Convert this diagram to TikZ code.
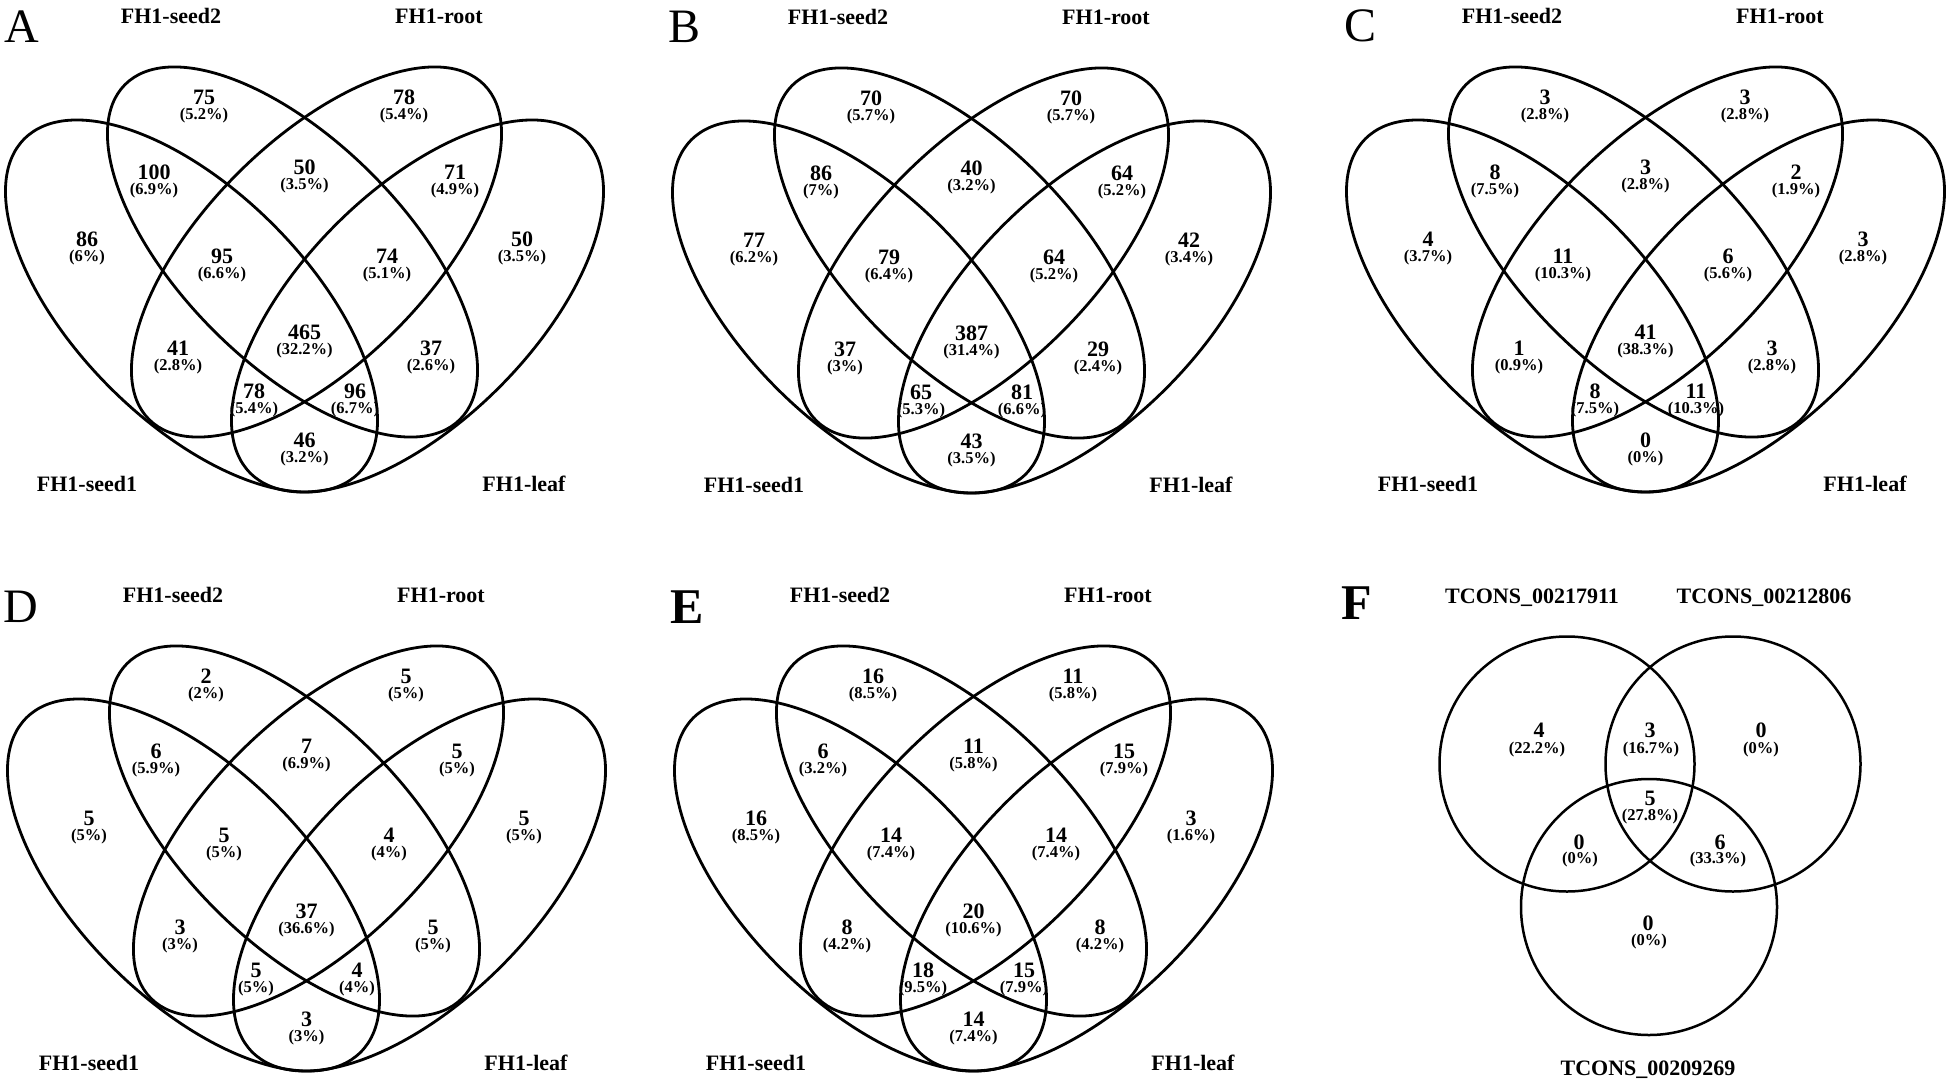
\documentclass[tikz,border=0pt]{standalone}
\usepackage{fontspec}
\setmainfont{Liberation Serif}
\def\RX{{204,404,154,304.5,455,87,522,222,387,178,304.5,431,254,355,304.5}}
\def\RY{{97,97,172,167,172,239,239,256,256,348,332,348,391,391,440}}
\newcommand\quadvenn[4]{%
 \begin{scope}[shift={(#2,#3)}]
  \draw[ell, rotate around={-45:(191.5,306)}] (191.5,306) ellipse [x radius=236.4pt, y radius=115.3pt];
  \draw[ell, rotate around={45:(417.5,306)}] (417.5,306) ellipse [x radius=236.4pt, y radius=115.3pt];
  \draw[ell, rotate around={-45:(292.5,252)}] (292.5,252) ellipse [x radius=236.8pt, y radius=111.3pt];
  \draw[ell, rotate around={45:(316.5,252)}] (316.5,252) ellipse [x radius=236.8pt, y radius=111.3pt];
  \foreach \n/\p [count=\i from 0] in {#4} {
    \pgfmathsetmacro\xx{\RX[\i]}
    \pgfmathsetmacro\yy{\RY[\i]}
    \node[num] (#1n\i) at (\xx,\yy) {\n};
    \node[pct] (#1p\i) at (\xx,\yy+18.7) {(\p\%)};
  }
  \node[lab] (#1seedtwo) at (171,16) {FH1-seed2};
  \node[lab] (#1root) at (439,16) {FH1-root};
  \node[lab] (#1seedone) at (87,484) {FH1-seed1};
  \node[lab] (#1leaf) at (524,484) {FH1-leaf};
 \end{scope}}
\begin{document}
\begin{tikzpicture}[x=1pt,y=-1pt,
  ell/.style={line width=2.8pt},
  circ/.style={line width=2.5pt},
  lab/.style={inner sep=0pt,font=\fontsize{22}{24}\selectfont\bfseries},
  num/.style={inner sep=0pt,font=\fontsize{22}{24}\selectfont\bfseries},
  pct/.style={inner sep=0pt,font=\fontsize{16.5}{18}\selectfont\bfseries},
  letter/.style={inner sep=0pt,font=\fontsize{48}{50}\selectfont},
  bletter/.style={inner sep=0pt,font=\fontsize{50}{52}\selectfont\bfseries}]
\fill[white] (0,0) rectangle (1946,1084);
\useasboundingbox (0,0) rectangle (1946,1084);
% panel letters
\node[letter] (LA) at (22,27) {A};
\node[letter] (LB) at (684,27) {B};
\node[letter] (LC) at (1360,26) {C};
\node[letter] (LD) at (21,607) {D};
\node[bletter] (LE) at (687,607) {E};
\node[bletter] (LF) at (1357,603) {F};
% panels A-E
\quadvenn{A}{0}{0}{75/5.2,78/5.4,100/6.9,50/3.5,71/4.9,86/6,50/3.5,95/6.6,74/5.1,41/2.8,465/32.2,37/2.6,78/5.4,96/6.7,46/3.2}
\quadvenn{B}{667}{1}{70/5.7,70/5.7,86/7,40/3.2,64/5.2,77/6.2,42/3.4,79/6.4,64/5.2,37/3,387/31.4,29/2.4,65/5.3,81/6.6,43/3.5}
\quadvenn{C}{1341}{0}{3/2.8,3/2.8,8/7.5,3/2.8,2/1.9,4/3.7,3/2.8,11/10.3,6/5.6,1/0.9,41/38.3,3/2.8,8/7.5,11/10.3,0/0}
\quadvenn{D}{2}{579}{2/2,5/5,6/5.9,7/6.9,5/5,5/5,5/5,5/5,4/4,3/3,37/36.6,5/5,5/5,4/4,3/3}
\quadvenn{E}{669}{579}{16/8.5,11/5.8,6/3.2,11/5.8,15/7.9,16/8.5,3/1.6,14/7.4,14/7.4,8/4.2,20/10.6,8/4.2,18/9.5,15/7.9,14/7.4}
% panel F
\draw[circ] (1567,764) circle [radius=127.5pt];
\draw[circ] (1733,764) circle [radius=127.5pt];
\draw[circ] (1649,907) circle [radius=128pt];
\node[lab,anchor=base] (Fl1) at (1532,603.5) {TCONS\_00217911};
\node[lab,anchor=base] (Fl2) at (1764,603.5) {TCONS\_00212806};
\node[lab,anchor=base] (Fl3) at (1648,1075.5) {TCONS\_00209269};
\node[num] (Fn1) at (1539,730) {4};
\node[pct] (Fp1) at (1537,750) {(22.2\%)};
\node[num] (Fn2) at (1650,730) {3};
\node[pct] (Fp2) at (1651,750) {(16.7\%)};
\node[num] (Fn3) at (1761,730) {0};
\node[pct] (Fp3) at (1761,750) {(0\%)};
\node[num] (Fn4) at (1650,798.5) {5};
\node[pct] (Fp4) at (1650,816.5) {(27.8\%)};
\node[num] (Fn5) at (1579,842) {0};
\node[pct] (Fp5) at (1580,860) {(0\%)};
\node[num] (Fn6) at (1720,842) {6};
\node[pct] (Fp6) at (1718,860) {(33.3\%)};
\node[num] (Fn7) at (1648,923) {0};
\node[pct] (Fp7) at (1649,942) {(0\%)};
\end{tikzpicture}
\end{document}
